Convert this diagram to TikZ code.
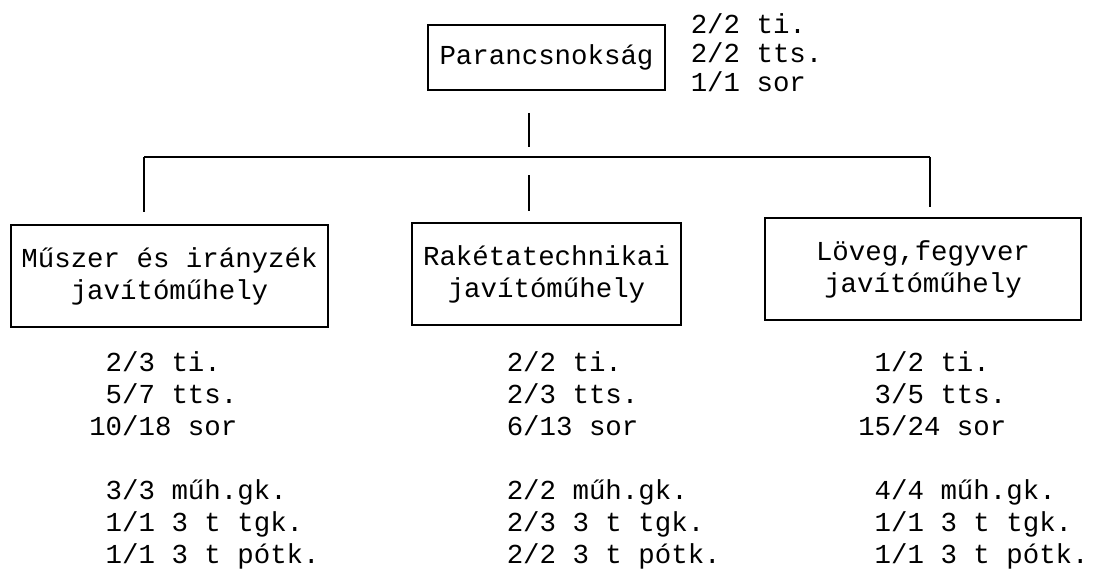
\documentclass[tikz,border=0pt]{standalone}
\usepackage{fontspec}
\setmainfont{Liberation Mono}
\usetikzlibrary{calc}

\begin{document}
\begin{tikzpicture}[x=0.025cm,y=-0.025cm,line width=1.1pt,
    box/.style={draw,align=center,inner sep=0pt,minimum height=2.55cm,font=\fontsize{19.5}{22.7}\selectfont},
    counts/.style={anchor=base west,align=left,inner sep=0pt,font=\fontsize{19.5}{22.7}\selectfont}]
    \useasboundingbox (0,0) rectangle (1094,572);
    \node[box,minimum width=5.925cm,minimum height=1.625cm] (hq) at (546.5,57.5) {Parancsnokság};
    \node[counts,font=\fontsize{19.5}{20.6}\selectfont] (hqn) at (690,91) {2/2 ti.\\2/2 tts.\\1/1 sor};
    \node[box,minimum width=7.925cm] (muszer) at (169.5,276) {Műszer és irányzék\\javítóműhely};
    \node[box,minimum width=6.725cm] (raketa) at (546.5,274) {Rakétatechnikai\\javítóműhely};
    \node[box,minimum width=7.9cm] (loveg) at (923,269) {Löveg,fegyver\\javítóműhely};
    \node[counts] (muszern) at (88.5,563) {\hphantom{0}2/3 ti.\\\hphantom{0}5/7 tts.\\10/18 sor\\[0.8cm]\hphantom{0}3/3 műh.gk.\\\hphantom{0}1/1 3 t tgk.\\\hphantom{0}1/1 3 t pótk.};
    \node[counts] (raketan) at (506,563) {2/2 ti.\\2/3 tts.\\6/13 sor\\[0.8cm]2/2 műh.gk.\\2/3 3 t tgk.\\2/2 3 t pótk.};
    \node[counts] (lovegn) at (857.5,563) {\hphantom{0}1/2 ti.\\\hphantom{0}3/5 tts.\\15/24 sor\\[0.8cm]\hphantom{0}4/4 műh.gk.\\\hphantom{0}1/1 3 t tgk.\\\hphantom{0}1/1 3 t pótk.};
    \coordinate (busL) at (144,157);
    \coordinate (busR) at (930,157);
    \coordinate (hub) at (529,157);
    \draw (busL) -- (busR);
    \draw[shorten <=0.55cm,shorten >=0.25cm] (hub |- hq.south) -- (hub);
    \draw[shorten >=0.3cm] (busL) -- (busL |- muszer.north);
    \draw[shorten <=0.45cm,shorten >=0.275cm] (hub) -- (hub |- raketa.north);
    \draw[shorten >=0.25cm] (busR) -- (busR |- loveg.north);
\end{tikzpicture}
\end{document}
